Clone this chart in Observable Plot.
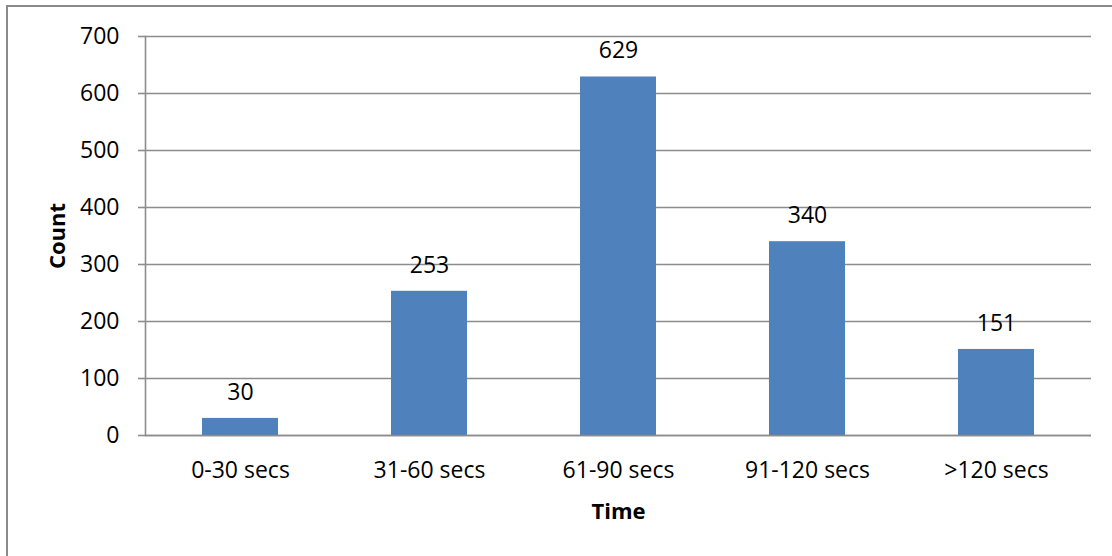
<!DOCTYPE html>
<html>
<head>
<meta charset="utf-8">
<script src="https://cdn.jsdelivr.net/npm/d3@7"></script>
<script src="https://cdn.jsdelivr.net/npm/@observablehq/plot@0.6"></script>
<style>
  html, body { margin: 0; padding: 0; background: #fff; }
  #wrap { position: relative; width: 1112px; height: 556px; overflow: hidden; }
  #border { position: absolute; left: 6px; top: 5px; width: 2000px; height: 2000px;
            border-left: 2px solid #8a8a8a; border-top: 2px solid #8a8a8a; box-sizing: border-box; }
  #chart { position: absolute; left: 0; top: 0; }
</style>
</head>
<body>
<div id="wrap"><div id="border"></div><div id="chart"></div></div>
<script>
const categories = ["0-30 secs", "31-60 secs", "61-90 secs", "91-120 secs", ">120 secs"];
const counts = [30, 253, 629, 340, 151];
const yTicks = [0, 100, 200, 300, 400, 500, 600, 700];
const xTitle = "Time";
const yTitle = "Count";

const data = categories.map((c, i) => ({category: c, count: counts[i]}));

const chart = Plot.plot({
  width: 1112,
  height: 556,
  marginLeft: 145,
  marginRight: 21,
  marginTop: 36,
  marginBottom: 121,
  style: {fontFamily: "'Open Sans', sans-serif", fontSize: "23px", color: "#000", background: "transparent", overflow: "visible"},
  x: {domain: categories, paddingInner: 0.6, paddingOuter: 0.3, label: null},
  y: {domain: [0, 700], ticks: yTicks, label: null},
  marks: [
    Plot.gridY(yTicks, {stroke: "#8c8c8c", strokeOpacity: 1, strokeWidth: 1.6}),
    Plot.barY(data, {x: "category", y: "count", fill: "#4F81BD"}),
    Plot.ruleY([0], {stroke: "#8c8c8c", strokeWidth: 1.6}),
    Plot.frame({anchor: "left", stroke: "#8c8c8c", strokeWidth: 1.6}),
    Plot.axisY(yTicks, {tickSize: 7, tickPadding: 19, stroke: "#8c8c8c", strokeWidth: 1.6, fill: "#000", label: null, fontSize: 23}),
    Plot.axisX({tickSize: 0, tickPadding: 26, fill: "#000", label: null, fontSize: 23}),
    Plot.text(data, {x: "category", y: "count", text: d => String(d.count), dy: -26, lineAnchor: "middle", fill: "#000", fontSize: 23}),
    Plot.text([xTitle], {frameAnchor: "bottom", dy: 76, lineAnchor: "middle", textAnchor: "middle", fontWeight: "bold", fill: "#000", fontSize: 22}),
    Plot.text([yTitle], {frameAnchor: "left", dx: -88, rotate: -90, lineAnchor: "middle", textAnchor: "middle", fontWeight: "bold", fill: "#000", fontSize: 22})
  ]
});
document.getElementById("chart").appendChild(chart);
</script>
</body>
</html>
